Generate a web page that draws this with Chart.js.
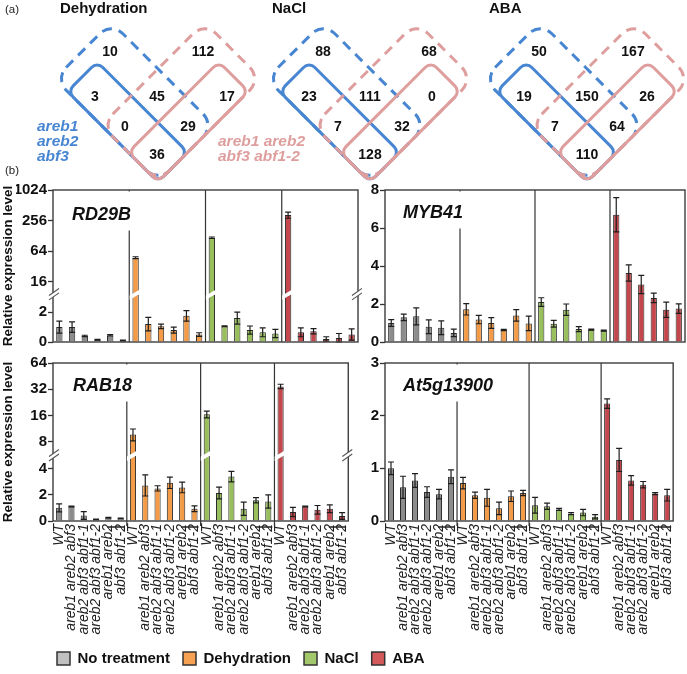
<!DOCTYPE html>
<html><head><meta charset="utf-8">
<script src="https://cdn.jsdelivr.net/npm/chart.js@4.4.1/dist/chart.umd.min.js"></script>
<style>
html,body{margin:0;padding:0;background:#fff;}
#fig{position:relative;width:687px;height:674px;overflow:hidden;background:#fff;}
#fig canvas{position:absolute;}
</style></head><body>
<div id="fig">
<canvas id="venn" width="687" height="186" style="left:0;top:0"></canvas>
<canvas id="p1" width="362" height="172" style="left:0;top:180px"></canvas>
<canvas id="p2" width="325" height="172" style="left:362px;top:180px"></canvas>
<canvas id="p3" width="362" height="292" style="left:0;top:353px"></canvas>
<canvas id="p4" width="325" height="292" style="left:362px;top:353px"></canvas>
<canvas id="leg" width="450" height="70" style="left:44px;top:638px"></canvas>
</div>
<script>
// ---------------- DATA ----------------
const genotypes = ['WT','areb1 areb2 abf3','areb2 abf3 abf1-1','areb2 abf3 abf1-2','areb1 areb2','abf3 abf1-2'];
const treatments = ['No treatment','Dehydration','NaCl','ABA'];
const vennTitles = ['Dehydration','NaCl','ABA'];
const vennDehydration = [10,112,3,45,17,0,29,36];
const vennNaCl = [88,68,23,111,0,7,32,128];
const vennABA = [50,167,19,150,26,7,64,110];
const tripleMutantLabel = ['areb1','areb2','abf3'];
const quadMutantLabel = ['areb1 areb2','abf3 abf1-2'];

// 24 bars per gene: 6 genotypes x (No treatment, Dehydration, NaCl, ABA)
const rd29bMean = [1.0,1.0,0.4,0.15,0.45,0.1, 48,1.2,1.05,0.8,1.75,0.5, 118,1.05,1.6,0.8,0.65,0.57, 330,0.65,0.72,0.2,0.27,0.5];
const rd29bSE   = [0.4,0.35,0.05,0.03,0.05,0.02, 2,0.45,0.15,0.2,0.35,0.12, 4,0.03,0.4,0.27,0.3,0.28, 45,0.3,0.18,0.15,0.3,0.38];
const myb41Mean = [1.0,1.3,1.35,0.8,0.75,0.48, 1.72,1.18,1.0,0.63,1.4,0.98, 2.1,0.96,1.7,0.68,0.65,0.6, 6.7,3.63,3.03,2.32,1.7,1.76];
const myb41SE   = [0.18,0.17,0.45,0.36,0.36,0.2, 0.3,0.22,0.28,0.03,0.3,0.38, 0.23,0.18,0.3,0.13,0.03,0.03, 0.9,0.43,0.48,0.25,0.4,0.25];
const rab18Mean = [1.0,1.1,0.42,0.12,0.25,0.2, 9.7,2.7,2.48,2.9,2.55,0.93, 16.5,2.13,3.38,0.93,1.58,1.48, 34.5,0.68,1.1,0.85,0.93,0.38];
const rab18SE   = [0.3,0.03,0.3,0.02,0.02,0.02, 1.5,0.8,0.2,0.43,0.4,0.22, 1.5,0.45,0.4,0.5,0.2,0.5, 2,0.35,0.03,0.33,0.3,0.25];
const at5gMean  = [1.0,0.64,0.77,0.55,0.51,0.84, 0.72,0.49,0.44,0.24,0.47,0.53, 0.3,0.28,0.22,0.14,0.16,0.08, 2.23,1.16,0.77,0.69,0.52,0.49];
const at5gSE    = [0.12,0.21,0.13,0.1,0.09,0.13, 0.11,0.06,0.16,0.12,0.1,0.05, 0.15,0.06,0.02,0.02,0.06,0.04, 0.09,0.22,0.09,0.06,0.02,0.11];

const rd29bLowTicks = [0,2], rd29bHighTicks = [16,64,256,1024];
const myb41Ticks = [0,2,4,6,8];
const rab18LowTicks = [0,2,4], rab18HighTicks = [8,16,32,64];
const at5gTicks = [0,1,2,3];

// ---------------- STYLE / LAYOUT ----------------
const FONT = '"Liberation Sans", Arial, Helvetica, sans-serif';
Chart.defaults.font.family = FONT;
Chart.defaults.color = '#111';
Chart.defaults.animation = false;
const treatColors = ['#8c8c8c','#f39b47','#98bf5c','#c4474d'];
const legendColors = ['#c0c0c0','#f6a252','#a3c76b','#d3595b'];
const BLUE = '#4886d2', PINK = '#df9e9e';
const categories = treatments.flatMap(() => genotypes);

const vennCenterX = [158, 370, 587];
const vennBaseY = 182;
const vennCounts = [vennDehydration, vennNaCl, vennABA];
const vennLabelPos = [
  [[-48,-130],[45,-130],[-63,-85],[-1,-85],[69,-85],[-33,-55],[30,-55],[-1,-27]],
  [[-47,-130],[59,-130],[-61,-85],[0,-85],[62,-85],[-32,-55],[32,-55],[0,-27]],
  [[-48,-130],[46,-130],[-63,-85],[0,-85],[60,-85],[-32,-55],[30,-55],[0,-27]]
];
const vennShapes = [
  {color:BLUE, dash:true,  along:146, across:80,  r:16},
  {color:BLUE, dash:false, along:128, across:42,  r:8},
  {color:PINK, dash:true,  along:80,  across:146, r:16},
  {color:PINK, dash:false, along:42,  across:128, r:8}
];

function rrect(ctx, x, y, w, h, r) {
  ctx.moveTo(x + r, y);
  ctx.lineTo(x + w - r, y); ctx.arcTo(x + w, y, x + w, y + r, r);
  ctx.lineTo(x + w, y + h - r); ctx.arcTo(x + w, y + h, x + w - r, y + h, r);
  ctx.lineTo(x + r, y + h); ctx.arcTo(x, y + h, x, y + h - r, r);
  ctx.lineTo(x, y + r); ctx.arcTo(x, y, x + r, y, r);
  ctx.closePath();
}

const vennPlugin = {
  id: 'vennDraw',
  afterDatasetsDraw(chart) {
    const ctx = chart.ctx, xs = chart.scales.x, ys = chart.scales.y;
    const unit = xs.getPixelForValue(1) - xs.getPixelForValue(0);
    ctx.save();
    vennCenterX.forEach((cx, k) => {
      const bx = xs.getPixelForValue(cx), by = ys.getPixelForValue(vennBaseY);
      vennShapes.forEach(s => {
        ctx.save();
        ctx.translate(bx, by);
        ctx.rotate(-Math.PI / 4);
        ctx.strokeStyle = s.color;
        ctx.lineWidth = 3;
        ctx.setLineDash(s.dash ? [10, 7] : []);
        ctx.beginPath();
        rrect(ctx, 0, -s.along * unit, s.across * unit, s.along * unit, s.r);
        ctx.stroke();
        ctx.restore();
      });
      ctx.fillStyle = '#111';
      ctx.font = 'bold 15px ' + FONT;
      ctx.textAlign = 'left'; ctx.textBaseline = 'middle';
      ctx.fillText(vennTitles[k], xs.getPixelForValue(cx - 98), ys.getPixelForValue(9));
      ctx.font = 'bold 14px ' + FONT;
      ctx.textAlign = 'center';
      const meta = chart.getDatasetMeta(k);
      meta.data.forEach((pt, i) => ctx.fillText(String(vennCounts[k][i]), pt.x, pt.y));
    });
    ctx.textAlign = 'left';
    ctx.font = 'italic bold 15.5px ' + FONT;
    ctx.fillStyle = BLUE;
    tripleMutantLabel.forEach((t, i) => ctx.fillText(t, xs.getPixelForValue(37), ys.getPixelForValue(127 + 15 * i)));
    ctx.fillStyle = PINK;
    quadMutantLabel.forEach((t, i) => ctx.fillText(t, xs.getPixelForValue(218), ys.getPixelForValue(142 + 15 * i)));
    ctx.fillStyle = '#222';
    ctx.font = '11.5px ' + FONT;
    ctx.fillText('(a)', xs.getPixelForValue(5), ys.getPixelForValue(10));
    ctx.fillText('(b)', xs.getPixelForValue(5), ys.getPixelForValue(171));
    ctx.restore();
  }
};

new Chart(document.getElementById('venn'), {
  type: 'scatter',
  data: { datasets: vennTitles.map((t, k) => ({
    label: t,
    data: vennLabelPos[k].map(o => ({ x: vennCenterX[k] + o[0], y: vennBaseY + o[1] })),
    pointRadius: 0, showLine: false
  })) },
  options: {
    responsive: false, events: [],
    layout: { padding: 0, autoPadding: false },
    scales: {
      x: { type: 'linear', min: 0, max: 687, display: false },
      y: { type: 'linear', min: 0, max: 186, reverse: true, display: false }
    },
    plugins: { legend: { display: false }, tooltip: { enabled: false } }
  },
  plugins: [vennPlugin]
});

// ---------------- BAR PANELS ----------------
function slash(ctx, x, y, hw, outline) {
  const hs = 3.5, g = 2.2;
  ctx.save();
  ctx.fillStyle = '#fff';
  ctx.beginPath();
  ctx.moveTo(x - hw, y - g + hs); ctx.lineTo(x + hw, y - g - hs);
  ctx.lineTo(x + hw, y + g - hs); ctx.lineTo(x - hw, y + g + hs);
  ctx.closePath(); ctx.fill();
  if (outline) {
    ctx.strokeStyle = '#555'; ctx.lineWidth = 1.1;
    ctx.beginPath();
    ctx.moveTo(x - hw, y - g + hs); ctx.lineTo(x + hw, y - g - hs);
    ctx.moveTo(x - hw, y + g + hs); ctx.lineTo(x + hw, y + g - hs);
    ctx.stroke();
  }
  ctx.restore();
}

const panelDecor = {
  id: 'panelDecor',
  beforeDatasetsDraw(chart, args, o) {
    const ctx = chart.ctx, a = chart.chartArea, xs = chart.scales.x;
    ctx.save();
    ctx.strokeStyle = '#333'; ctx.lineWidth = 1.2;
    for (let k = 1; k < 4; k++) {
      const x = (xs.getPixelForValue(6 * k - 1) + xs.getPixelForValue(6 * k)) / 2;
      ctx.beginPath(); ctx.moveTo(x, a.top); ctx.lineTo(x, a.bottom + (o.sepTail || 0)); ctx.stroke();
    }
    ctx.restore();
  },
  afterDatasetsDraw(chart, args, o) {
    const ctx = chart.ctx, a = chart.chartArea, xs = chart.scales.x;
    const low = chart.scales[o.lowId], high = o.highId ? chart.scales[o.highId] : null;
    ctx.save();
    ctx.strokeStyle = '#1e1e1e'; ctx.lineWidth = 1.2;
    o.mean.forEach((v, i) => {
      const s = (high && v > o.lowMax) ? high : low;
      const x = xs.getPixelForValue(i);
      const yTop = s.getPixelForValue(v + o.se[i]);
      const yBot = s.getPixelForValue(Math.max(v - o.se[i], s.min));
      ctx.beginPath();
      ctx.moveTo(x, yBot); ctx.lineTo(x, yTop);
      ctx.moveTo(x - 3, yTop); ctx.lineTo(x + 3, yTop);
      ctx.moveTo(x - 3, yBot); ctx.lineTo(x + 3, yBot);
      ctx.stroke();
    });
    ctx.strokeStyle = '#3c3c3c'; ctx.lineWidth = 1.4;
    ctx.strokeRect(a.left, a.top, a.right - a.left, a.bottom - a.top);
    if (high) {
      const yb = low.top;
      slash(ctx, a.left + 1, yb, 5, true);
      slash(ctx, a.right - 1, yb, 5, true);
      o.mean.forEach((v, i) => { if (v > o.lowMax) slash(ctx, xs.getPixelForValue(i), yb, 6, false); });
    }
    ctx.font = 'italic bold 18px ' + FONT;
    const w = ctx.measureText(o.gene).width;
    const gx = a.left + o.geneDx, gy = a.top + o.geneDy;
    ctx.fillStyle = '#fff';
    ctx.fillRect(gx - 2, a.top + 1.5, w + 5, gy - a.top + 14);
    ctx.fillStyle = '#111'; ctx.textAlign = 'left'; ctx.textBaseline = 'middle';
    ctx.fillText(o.gene, gx, gy);
    if (o.bracket) {
      ctx.strokeStyle = '#222'; ctx.lineWidth = 1.5;
      for (let k = 0; k < 4; k++) {
        const x5 = xs.getPixelForValue(6 * k + 4), x6 = xs.getPixelForValue(6 * k + 5);
        ctx.beginPath(); ctx.moveTo(x5 - 1, a.bottom + 6); ctx.lineTo(x6 + 4, a.bottom + 6); ctx.stroke();
      }
    }
    ctx.restore();
  }
};

function yAxis(ticksArr, width, extra) {
  return Object.assign({
    position: 'left', bounds: 'data', offset: false,
    border: { display: false },
    grid: { display: true, drawOnChartArea: false, drawTicks: true, tickLength: 5, tickWidth: 1.3, tickColor: '#333' },
    ticks: { font: { family: FONT, size: 15, weight: 'bold' }, color: '#111', padding: 1, autoSkip: false, callback: v => String(v) },
    afterBuildTicks: s => { s.ticks = ticksArr.map(v => ({ value: v })); },
    afterFit: s => { s.width = width; }
  }, extra);
}

function makePanel(id, p) {
  const scales = {};
  scales.x = {
    type: 'category', labels: categories, offset: true,
    grid: { display: false, drawTicks: false }, border: { display: false },
    ticks: p.labels
      ? { display: true, autoSkip: false, maxRotation: 90, minRotation: 90, padding: 3, color: '#222', font: { family: FONT, size: 14, style: 'italic' } }
      : { display: false },
    afterFit: s => { s.height = p.xHeight; }
  };
  if (p.title) {
    scales.yTitle = {
      type: 'linear', position: 'left', weight: 3, min: 0, max: 1,
      grid: { display: false, drawTicks: false }, border: { display: false }, ticks: { display: false },
      title: { display: true, text: 'Relative expression level', color: '#111', padding: 0, font: { family: FONT, size: 13.5, weight: 'bold' } },
      afterFit: s => { s.width = 16; }
    };
  }
  const datasets = [];
  let lowId = 'y', highId = null;
  if (p.broken) {
    const b = p.broken;
    lowId = 'yLow'; highId = 'yHigh';
    scales.yHigh = yAxis(b.highTicks, p.yWidth, { type: 'logarithmic', min: b.highMin, max: b.highMax, stack: 'gene', stackWeight: b.highW, weight: 2 });
    scales.yLow = yAxis(b.lowTicks, p.yWidth, { type: 'linear', min: 0, max: b.lowMax, stack: 'gene', stackWeight: b.lowW, weight: 1 });
  } else {
    scales.y = yAxis(p.ticks, p.yWidth, { type: 'linear', min: 0, max: p.max });
  }
  const lowMax = p.broken ? p.broken.lowMax : Infinity;
  treatments.forEach((t, k) => {
    const inGroup = i => Math.floor(i / 6) === k;
    const common = { label: t, backgroundColor: treatColors[k], borderColor: '#2a2a2a', borderWidth: 1, grouped: false, categoryPercentage: 1, barPercentage: 0.5 };
    datasets.push(Object.assign({}, common, { yAxisID: lowId, data: p.mean.map((v, i) => inGroup(i) ? Math.min(v, lowMax) : null) }));
    if (p.broken) {
      datasets.push(Object.assign({}, common, { yAxisID: highId, data: p.mean.map((v, i) => (inGroup(i) && v > lowMax) ? [p.broken.highMin, v] : null) }));
    }
  });
  return new Chart(document.getElementById(id), {
    type: 'bar',
    data: { labels: categories, datasets },
    options: {
      responsive: false, events: [],
      layout: { padding: p.padding, autoPadding: false },
      scales,
      plugins: {
        legend: { display: false }, tooltip: { enabled: false },
        panelDecor: { gene: p.gene, mean: p.mean, se: p.se, lowId, highId, lowMax, geneDx: p.geneDx, geneDy: p.geneDy, sepTail: p.labels ? 5 : 0, bracket: p.labels }
      }
    },
    plugins: [panelDecor]
  });
}

makePanel('p1', { gene: 'RD29B', mean: rd29bMean, se: rd29bSE, title: true, labels: false, yWidth: 37, xHeight: 0,
  padding: { top: 7.5, right: 4, bottom: 3, left: 0 }, geneDx: 19, geneDy: 25,
  broken: { lowMax: 3.2, highMin: 9.2, highMax: 1024, lowTicks: rd29bLowTicks, highTicks: rd29bHighTicks, lowW: 51, highW: 111 } });
makePanel('p2', { gene: 'MYB41', mean: myb41Mean, se: myb41SE, title: false, labels: false, yWidth: 23, xHeight: 0,
  padding: { top: 8, right: 2, bottom: 3, left: 0 }, geneDx: 18, geneDy: 23, max: 8, ticks: myb41Ticks });
makePanel('p3', { gene: 'RAB18', mean: rab18Mean, se: rab18SE, title: true, labels: true, yWidth: 37, xHeight: 124,
  padding: { top: 7, right: 4, bottom: 0, left: 0 }, geneDx: 20, geneDy: 23,
  broken: { lowMax: 5, highMin: 5.6, highMax: 64, lowTicks: rab18LowTicks, highTicks: rab18HighTicks, lowW: 67, highW: 94 } });
makePanel('p4', { gene: 'At5g13900', mean: at5gMean, se: at5gSE, title: false, labels: true, yWidth: 23, xHeight: 124,
  padding: { top: 7, right: 2, bottom: 0, left: 0 }, geneDx: 18, geneDy: 23, max: 3, ticks: at5gTicks });

// ---------------- LEGEND ----------------
new Chart(document.getElementById('leg'), {
  type: 'bar',
  data: { labels: [], datasets: treatments.map((t, k) => ({ label: t, data: [], backgroundColor: legendColors[k], borderColor: '#333', borderWidth: 1.5 })) },
  options: {
    responsive: false, events: [],
    layout: { padding: 0 },
    scales: { x: { display: false }, y: { display: false } },
    plugins: {
      tooltip: { enabled: false },
      legend: { display: true, position: 'top', align: 'start', maxHeight: 60,
        labels: { boxWidth: 13, boxHeight: 13, padding: 13, color: '#111', font: { family: FONT, size: 15, weight: 'bold' } } }
    }
  }
});
</script>
</body></html>
